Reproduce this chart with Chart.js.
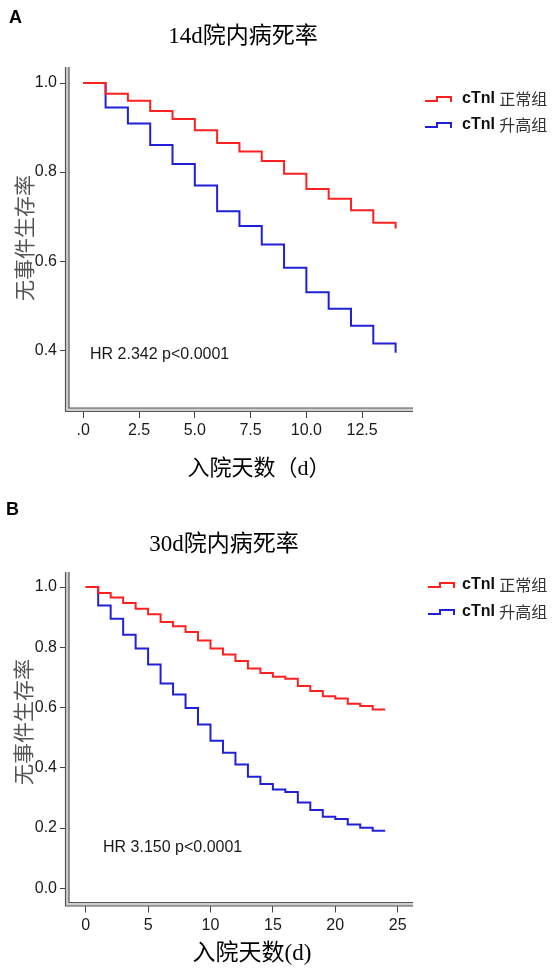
<!DOCTYPE html>
<html lang="zh">
<head>
<meta charset="UTF-8">
<title>cTnI 院内病死率</title>
<script src="https://cdn.jsdelivr.net/npm/chart.js"></script>
<style>
  body { margin: 0; background: #fff; }
  canvas { position: absolute; left: 0; }
</style>
</head>
<body>
<canvas id="chartA" width="553" height="490" style="top:0"></canvas>
<canvas id="chartB" width="553" height="482" style="top:490px"></canvas>
<script>
// A: 14d
const daysA = [0, 1, 2, 3, 4, 5, 6, 7, 8, 9, 10, 11, 12, 13, 14];
const normalA = [1.0, 0.976, 0.960, 0.937, 0.919, 0.894, 0.865, 0.846, 0.825, 0.796, 0.762, 0.740, 0.714, 0.686, 0.673];
const highA = [1.0, 0.945, 0.909, 0.861, 0.818, 0.770, 0.712, 0.679, 0.637, 0.585, 0.530, 0.493, 0.455, 0.415, 0.394];
const xTicksA = [0, 2.5, 5, 7.5, 10, 12.5];
const xLabelsA = ['.0', '2.5', '5.0', '7.5', '10.0', '12.5'];
const yTicksA = [0.4, 0.6, 0.8, 1.0];
const yLabelsA = ['0.4', '0.6', '0.8', '1.0'];

// B: 30d
const daysB = [0, 1, 2, 3, 4, 5, 6, 7, 8, 9, 10, 11, 12, 13, 14, 15, 16, 17, 18, 19, 20, 21, 22, 23, 24];
const normalB = [1.0, 0.980, 0.965, 0.947, 0.928, 0.910, 0.884, 0.870, 0.851, 0.823, 0.796, 0.776, 0.755, 0.730, 0.715, 0.702, 0.696, 0.672, 0.655, 0.638, 0.630, 0.613, 0.605, 0.594, 0.594];
const highB = [1.0, 0.939, 0.895, 0.842, 0.796, 0.743, 0.680, 0.643, 0.599, 0.544, 0.490, 0.450, 0.411, 0.370, 0.346, 0.328, 0.320, 0.285, 0.260, 0.238, 0.230, 0.212, 0.201, 0.191, 0.191];
const xTicksB = [0, 5, 10, 15, 20, 25];
const xLabelsB = ['0', '5', '10', '15', '20', '25'];
const yTicksB = [0, 0.2, 0.4, 0.6, 0.8, 1.0];
const yLabelsB = ['0.0', '0.2', '0.4', '0.6', '0.8', '1.0'];

const groups = ['正常组', '升高组'];
const colors = ['#ff2020', '#2020d8'];

const tickFont = { family: 'Liberation Sans', size: 16 };
const serif = '"Liberation Serif", "Noto Sans CJK SC"';

// axes, titles, legend, HR text
const decor = {
  id: 'decor',
  afterDraw(chart, args, o) {
    const ctx = chart.ctx;
    const { left, right, top, bottom } = chart.chartArea;
    ctx.save();

    // double axis lines
    ctx.fillStyle = '#cfcfcf';
    ctx.fillRect(left - 3.5, top, 3.5, bottom - top + 3.5);
    ctx.fillRect(left - 3.5, bottom, right - left + 3.5, 3.5);
    ctx.strokeStyle = '#555';
    ctx.lineWidth = 1.2;
    ctx.beginPath();
    ctx.moveTo(left, top); ctx.lineTo(left, bottom); ctx.lineTo(right, bottom);
    ctx.moveTo(left - 3.5, top); ctx.lineTo(left - 3.5, bottom + 3.5); ctx.lineTo(right, bottom + 3.5);
    ctx.stroke();

    ctx.fillStyle = '#000';
    ctx.textBaseline = 'middle';

    // panel letter
    ctx.font = 'bold 18px "Liberation Sans"';
    ctx.textAlign = 'left';
    ctx.fillText(o.letter, o.letterPos[0], o.letterPos[1]);

    // title
    ctx.font = '23px ' + serif;
    ctx.textAlign = 'center';
    ctx.fillText(o.title, o.titlePos[0], o.titlePos[1]);

    // x axis title
    ctx.font = o.xTitleSize + 'px ' + serif;
    ctx.fillText(o.xTitle, o.xTitlePos[0], o.xTitlePos[1]);

    // y axis title
    ctx.save();
    ctx.translate(o.yTitlePos[0], o.yTitlePos[1]);
    ctx.rotate(-Math.PI / 2);
    ctx.fillStyle = '#555';
    ctx.font = '21px "Noto Sans CJK SC"';
    ctx.fillText('无事件生存率', 0, 0);
    ctx.restore();

    // HR
    ctx.font = '16px "Liberation Sans"';
    ctx.textAlign = 'left';
    ctx.fillStyle = '#1a1a1a';
    ctx.fillText(o.hr, o.hrPos[0], o.hrPos[1]);

    // legend
    groups.forEach((g, i) => {
      const x = o.legendX;
      const y = o.legendY[i];
      ctx.strokeStyle = colors[i];
      ctx.lineWidth = 2;
      ctx.beginPath();
      ctx.moveTo(x, y + 2);
      ctx.lineTo(x + 12, y + 2);
      ctx.lineTo(x + 12, y - 2);
      ctx.lineTo(x + 26, y - 2);
      ctx.lineTo(x + 26, y + 3);
      ctx.stroke();
      ctx.fillStyle = '#111';
      ctx.font = 'bold 16px "Liberation Sans"';
      ctx.fillText('cTnI', o.legendTextX, y);
      const w = ctx.measureText('cTnI ').width;
      ctx.fillStyle = '#333';
      ctx.font = '16px "Noto Sans CJK SC"';
      ctx.fillText(g, o.legendTextX + w, y);
    });

    ctx.restore();
  }
};

function makeChart(id, p) {
  const datasets = [p.normal, p.high].map((vals, i) => ({
    label: 'cTnI ' + groups[i],
    data: p.days.map((d, j) => ({ x: d, y: vals[j] })),
    borderColor: colors[i],
    borderWidth: 2,
    stepped: true,
    pointRadius: 0,
    fill: false
  }));

  return new Chart(document.getElementById(id), {
    type: 'line',
    data: { datasets: datasets },
    plugins: [decor],
    options: {
      responsive: false,
      animation: false,
      layout: { padding: p.padding },
      plugins: {
        legend: { display: false },
        tooltip: { enabled: false },
        decor: p.decor
      },
      scales: {
        x: {
          type: 'linear',
          min: p.xMin,
          max: p.xMax,
          afterFit: s => { s.height = 40; },
          afterBuildTicks: s => { s.ticks = p.xTicks.map(v => ({ value: v })); },
          ticks: {
            font: tickFont,
            color: '#1a1a1a',
            padding: 3,
            maxRotation: 0,
            callback: (v) => p.xLabels[p.xTicks.indexOf(v)]
          },
          border: { display: false },
          grid: { drawOnChartArea: false, tickLength: 10, color: '#444' }
        },
        y: {
          min: p.yMin,
          max: p.yMax,
          afterFit: s => { s.width = 69; },
          afterBuildTicks: s => { s.ticks = p.yTicks.map(v => ({ value: v })); },
          ticks: {
            font: tickFont,
            color: '#1a1a1a',
            padding: 3,
            callback: (v) => p.yLabels[p.yTicks.indexOf(v)]
          },
          border: { display: false },
          grid: { drawOnChartArea: false, tickLength: 9, color: '#444' }
        }
      }
    }
  });
}

makeChart('chartA', {
  days: daysA, normal: normalA, high: highA,
  xTicks: xTicksA, xLabels: xLabelsA, yTicks: yTicksA, yLabels: yLabelsA,
  xMin: -0.64, xMax: 14.78, yMin: 0.270, yMax: 1.036,
  padding: { left: 0, top: 67, right: 140, bottom: 42 },
  decor: {
    letter: 'A', letterPos: [9, 18],
    title: '14d院内病死率', titlePos: [243, 37],
    xTitle: '入院天数（d）', xTitleSize: 22, xTitlePos: [259, 469],
    yTitlePos: [24, 238],
    hr: 'HR 2.342 p<0.0001', hrPos: [90, 355],
    legendX: 425, legendY: [99, 125], legendTextX: 462
  }
});

makeChart('chartB', {
  days: daysB, normal: normalB, high: highB,
  xTicks: xTicksB, xLabels: xLabelsB, yTicks: yTicksB, yLabels: yLabelsB,
  xMin: -1.34, xMax: 26.23, yMin: -0.047, yMax: 1.05,
  padding: { left: 0, top: 82, right: 140, bottom: 29.5 },
  decor: {
    letter: 'B', letterPos: [6, 20],
    title: '30d院内病死率', titlePos: [224, 55],
    xTitle: '入院天数(d)', xTitleSize: 23, xTitlePos: [252, 464],
    yTitlePos: [23, 232],
    hr: 'HR 3.150 p<0.0001', hrPos: [103, 358],
    legendX: 428, legendY: [95, 122], legendTextX: 462
  }
});
</script>
</body>
</html>
